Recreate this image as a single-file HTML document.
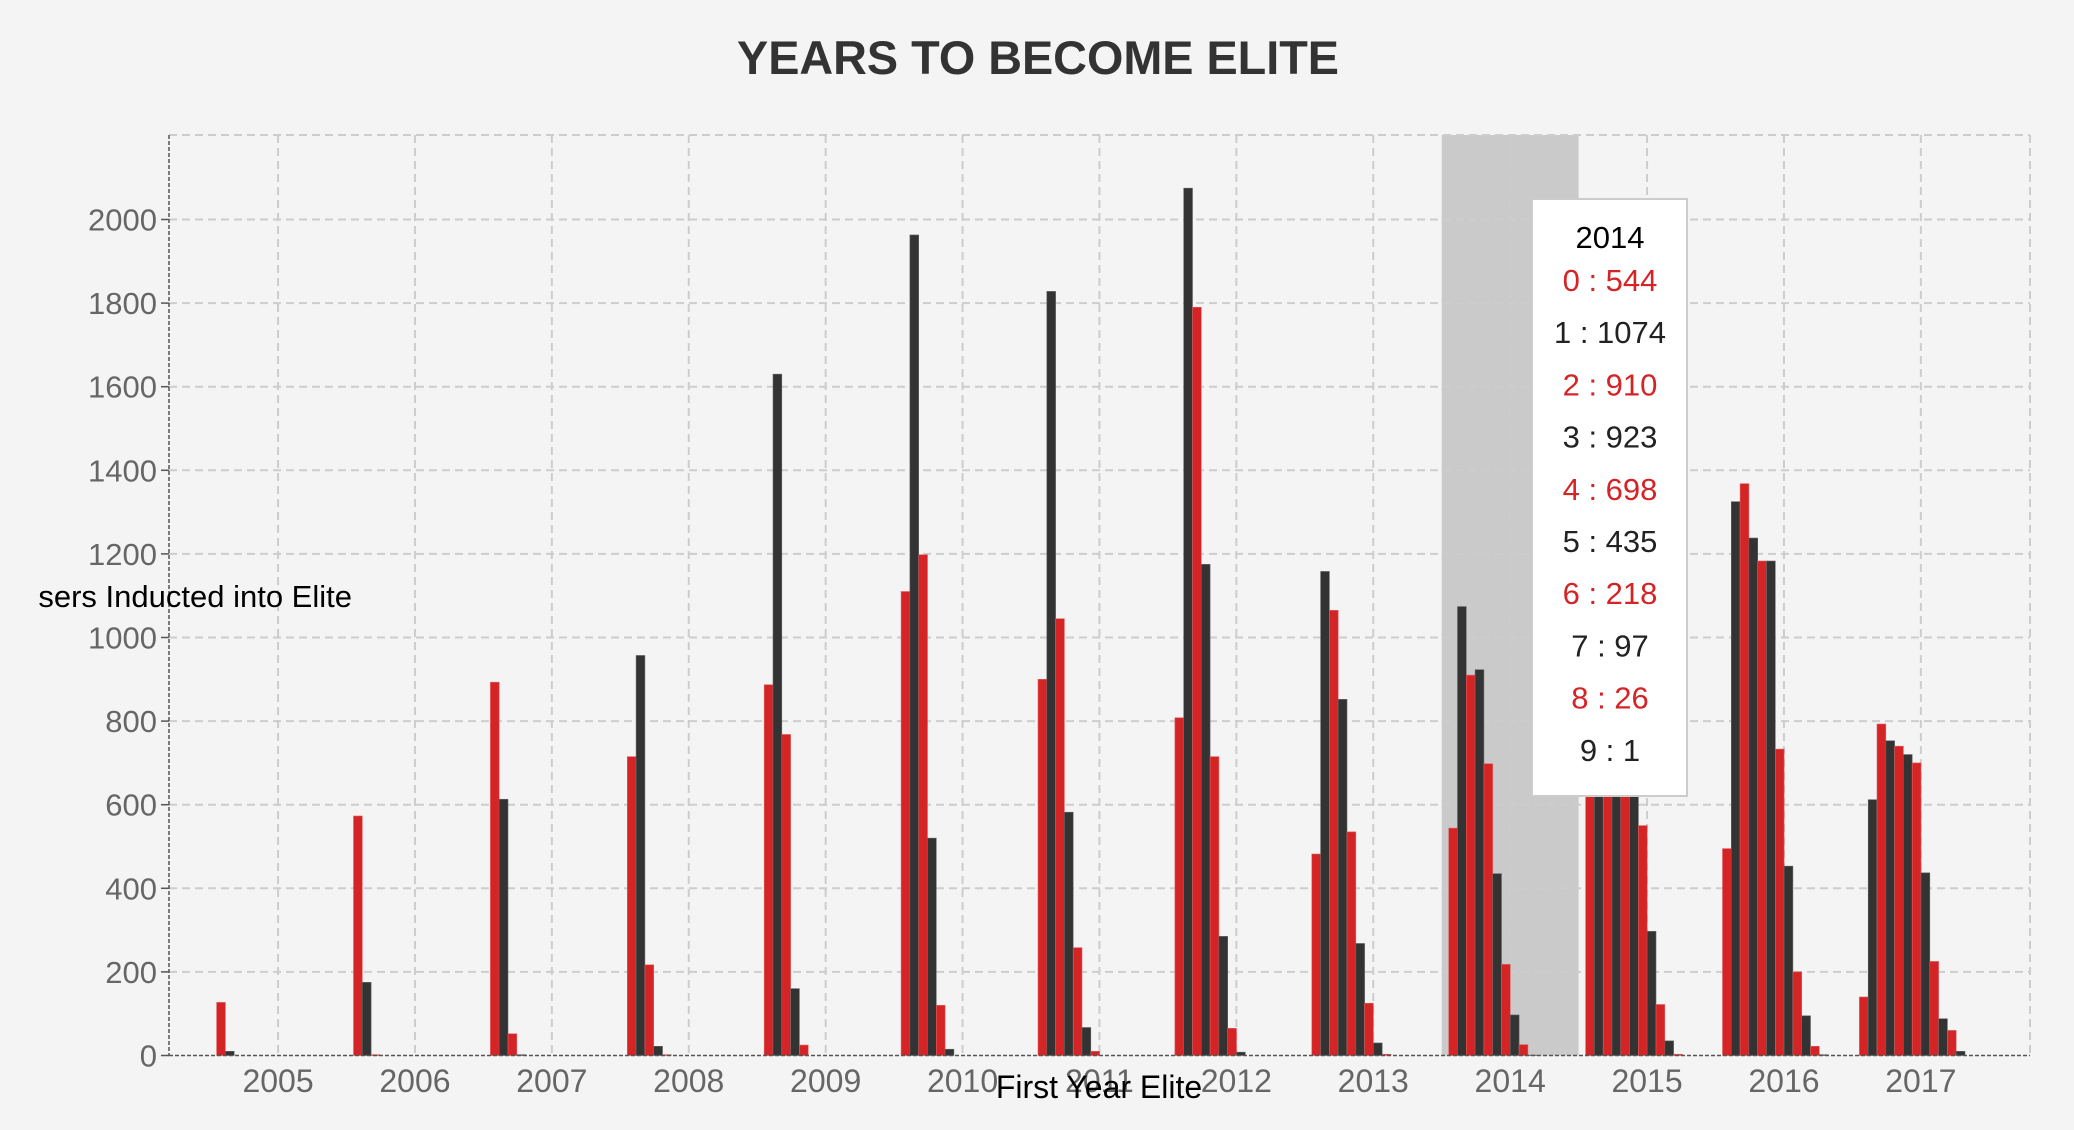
<!DOCTYPE html>
<html><head><meta charset="utf-8"><style>
html,body{margin:0;padding:0;background:#f4f4f4;}
svg{display:block;font-family:"Liberation Sans",sans-serif;}
</style></head><body>
<svg id="chart" width="2074" height="1130">
<defs><clipPath id="ytclip"><rect x="39" y="0" width="2035" height="1130"/></clipPath></defs>
<rect x="0" y="0" width="2074" height="1130" fill="#f4f4f4"/>
<text x="1038" y="74" text-anchor="middle" font-size="47" font-weight="bold" fill="#333" textLength="602" lengthAdjust="spacingAndGlyphs">YEARS TO BECOME ELITE</text>
<g id="grid"></g><g id="bars"></g><g id="axes"></g>
</svg>
<script>
const years = ["2005","2006","2007","2008","2009","2010","2011","2012","2013","2014","2015","2016","2017"];
const yTicks = [0,200,400,600,800,1000,1200,1400,1600,1800,2000];
const v2005 = [127,10,0,0,0,0,0,0,0,0,0,0];
const v2006 = [573,175,2,0,0,0,0,0,0,0,0,0];
const v2007 = [893,613,52,2,0,0,0,0,0,0,0,0];
const v2008 = [715,957,217,22,2,0,0,0,0,0,0,0];
const v2009 = [887,1630,768,160,25,0,0,0,0,0,0,0];
const v2010 = [1110,1963,1198,520,120,15,0,0,0,0,0,0];
const v2011 = [900,1828,1045,582,258,67,10,0,0,0,0,0];
const v2012 = [808,2075,1790,1175,715,285,65,8,0,0,0,0];
const v2013 = [482,1158,1065,852,535,268,125,30,3,0,0,0];
const v2014 = [544,1074,910,923,698,435,218,97,26,1,0,0];
const v2015 = [700,1250,1200,1000,800,650,550,297,122,35,3,0];
const v2016 = [495,1325,1368,1238,1183,1183,733,453,200,95,22,2];
const v2017 = [140,612,793,753,740,720,700,437,225,88,60,10];
const values = [v2005,v2006,v2007,v2008,v2009,v2010,v2011,v2012,v2013,v2014,v2015,v2016,v2017];
const tipYear = "2014";
const tipValues = v2014;

const NS="http://www.w3.org/2000/svg";
const X0=169, X1=2030, YB=1055.5, YT=135, bandStart=209.6, bandW=136.9, barW=8.8, pad=7;
const ys = v => YB - v*(83.6/200);
const bandX = i => bandStart + i*bandW;
const tickX = i => bandX(i) + bandW/2;
function mk(tag, attrs, parent){const e=document.createElementNS(NS,tag);for(const k in attrs)e.setAttribute(k,attrs[k]);parent.appendChild(e);return e;}
const grid=document.getElementById('grid'), bars=document.getElementById('bars'), axes=document.getElementById('axes');

const hi = years.indexOf(tipYear);
let hb = mk('rect',{x:bandX(hi),y:YT,width:bandW,height:YB-YT,fill:'#cacaca'},grid);



yTicks.concat([2200]).forEach(t=>{
  if(t===0) return;
  const y = t===2200?YT:ys(t);
  let l=mk('line',{x1:X0,x2:X1,y1:y,y2:y,stroke:'#cdcdcd','stroke-width':2,'stroke-dasharray':'8,5'},grid);
  
  
});
years.forEach((yr,i)=>{
  let l=mk('line',{x1:tickX(i),x2:tickX(i),y1:YT,y2:YB,stroke:'#cdcdcd','stroke-width':2,'stroke-dasharray':'8,5'},grid);
  
  
});
let rl=mk('line',{x1:X1,x2:X1,y1:YT,y2:YB,stroke:'#cdcdcd','stroke-width':2,'stroke-dasharray':'8,5'},grid);



values.forEach((arr,i)=>{
  arr.forEach((v,j)=>{
    const y=ys(v);
    let r=mk('rect',{x:bandX(i)+pad+j*barW,y:y,width:barW,height:YB-y,fill:j%2===0?'#d42426':'#333333',stroke:j%2===0?'#e06060':'#666','stroke-width':0.6},bars);
    
    
  });
});

let ya=mk('line',{x1:X0,x2:X0,y1:YT,y2:YB,stroke:'#555','stroke-width':1.5,'stroke-dasharray':'4,2'},axes);


let xa=mk('line',{x1:X0,x2:X1,y1:YB,y2:YB,stroke:'#555','stroke-width':1.5,'stroke-dasharray':'4,2'},axes);


yTicks.forEach(t=>{
  const y=ys(t);
  let tk=mk('line',{x1:X0-8,x2:X0,y1:y,y2:y,stroke:'#555','stroke-width':1.5},axes);
  
  
  let tx=mk('text',{x:X0-12,y:y+11,'text-anchor':'end','font-size':31,fill:'#666'},axes);
  tx.textContent=t;
  
  
});
years.forEach((yr,i)=>{
  let tx=mk('text',{x:tickX(i),y:1092,'text-anchor':'middle','font-size':32,fill:'#666'},axes);
  tx.textContent=yr;
  
  
});
let yt=mk('text',{x:352,y:607,'text-anchor':'end','font-size':31,fill:'#000','clip-path':'url(#ytclip)'},axes);
yt.textContent='Users Inducted into Elite';


let xt=mk('text',{x:1099,y:1098,'text-anchor':'middle','font-size':32,fill:'#000'},axes);
xt.textContent='First Year Elite';



const tg=mk('g',{},axes);


mk('rect',{x:1532,y:199,width:155,height:597,fill:'#fff',stroke:'#ccc','stroke-width':2},tg);
let th=mk('text',{x:1610,y:248,'text-anchor':'middle','font-size':31,fill:'#000'},tg);
th.textContent=tipYear;


let row=0;
tipValues.forEach((v,j)=>{
  if(v===0) return;
  let t=mk('text',{x:1610,y:291+row*52.2,'text-anchor':'middle','font-size':31,fill:j%2===0?'#d42426':'#222'},tg);
  t.textContent=j+' : '+v;
  
  
  row++;
});
</script>
</body></html>
